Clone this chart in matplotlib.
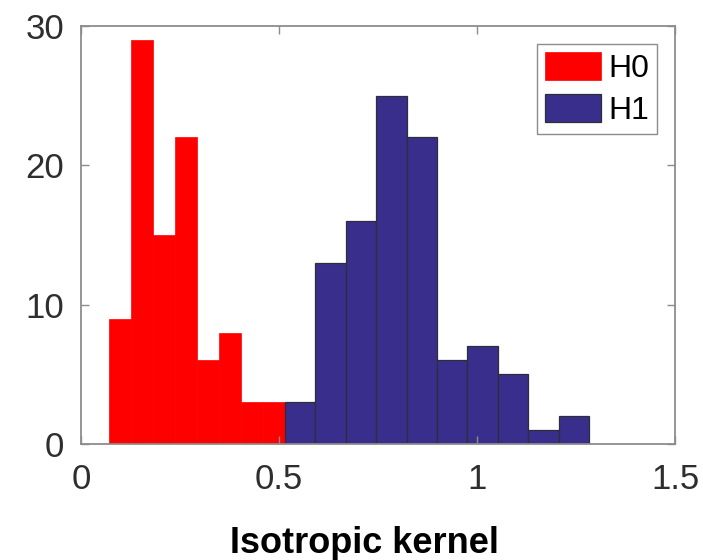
import numpy as np
import matplotlib
matplotlib.use("Agg")
import matplotlib.pyplot as plt

plt.rcParams['font.family'] = ['Liberation Sans', 'DejaVu Sans']

# Histogram counts and bin layout for the two hypotheses
h0_counts = [9, 29, 15, 22, 6, 8, 3, 3]
h0_first_edge = 0.0717
h0_bin_width = 0.0554

h1_counts = [3, 13, 16, 25, 22, 6, 7, 5, 1, 2]
h1_first_edge = 0.5144
h1_bin_width = 0.0769

x_ticks = [0, 0.5, 1, 1.5]
x_tick_labels = ["0", "0.5", "1", "1.5"]
y_ticks = [0, 10, 20, 30]
y_tick_labels = ["0", "10", "20", "30"]

h0_edges = h0_first_edge + h0_bin_width * np.arange(len(h0_counts) + 1)
h1_edges = h1_first_edge + h1_bin_width * np.arange(len(h1_counts) + 1)

fig = plt.figure(figsize=(7.03, 5.60), dpi=100)
ax = fig.add_axes([81 / 703, 1 - 444 / 560, (675 - 81) / 703, (444 - 26) / 560])

ax.hist(h0_edges[:-1], bins=h0_edges, weights=h0_counts,
        color='#FF0000', edgecolor='#FF0000', linewidth=0.5, label='H0')
ax.hist(h1_edges[:-1], bins=h1_edges, weights=h1_counts,
        color='#392E8B', edgecolor='#2E2E3A', linewidth=0.9, label='H1')

ax.set_xlim(0, 1.5)
ax.set_ylim(0, 30)
ax.set_xticks(x_ticks)
ax.set_xticklabels(x_tick_labels)
ax.set_yticks(y_ticks)
ax.set_yticklabels(y_tick_labels)

spine_color = '#8C8C8C'
for s in ax.spines.values():
    s.set_color(spine_color)
    s.set_linewidth(1.3)
ax.tick_params(direction='in', length=6, width=1.0, color=spine_color,
               top=True, right=True, labelsize=25, labelcolor='#2E2E2E')
ax.tick_params(axis='y', pad=12)
ax.tick_params(axis='x', pad=14)

leg = ax.legend(loc='upper right', fontsize=23, handlelength=1.75,
                handleheight=1.0, handletextpad=0.22, borderpad=0.25,
                labelspacing=0.3, borderaxespad=0.56, fancybox=False,
                framealpha=1.0)
leg.get_frame().set_edgecolor('#8C8C8C')
leg.get_frame().set_linewidth(1.0)

fig.text(364 / 703, 1 - 553 / 560, 'Isotropic kernel', ha='center',
         va='baseline', fontsize=26, fontweight='bold', color='black')

fig.savefig('out.png', dpi=100, facecolor='white')
